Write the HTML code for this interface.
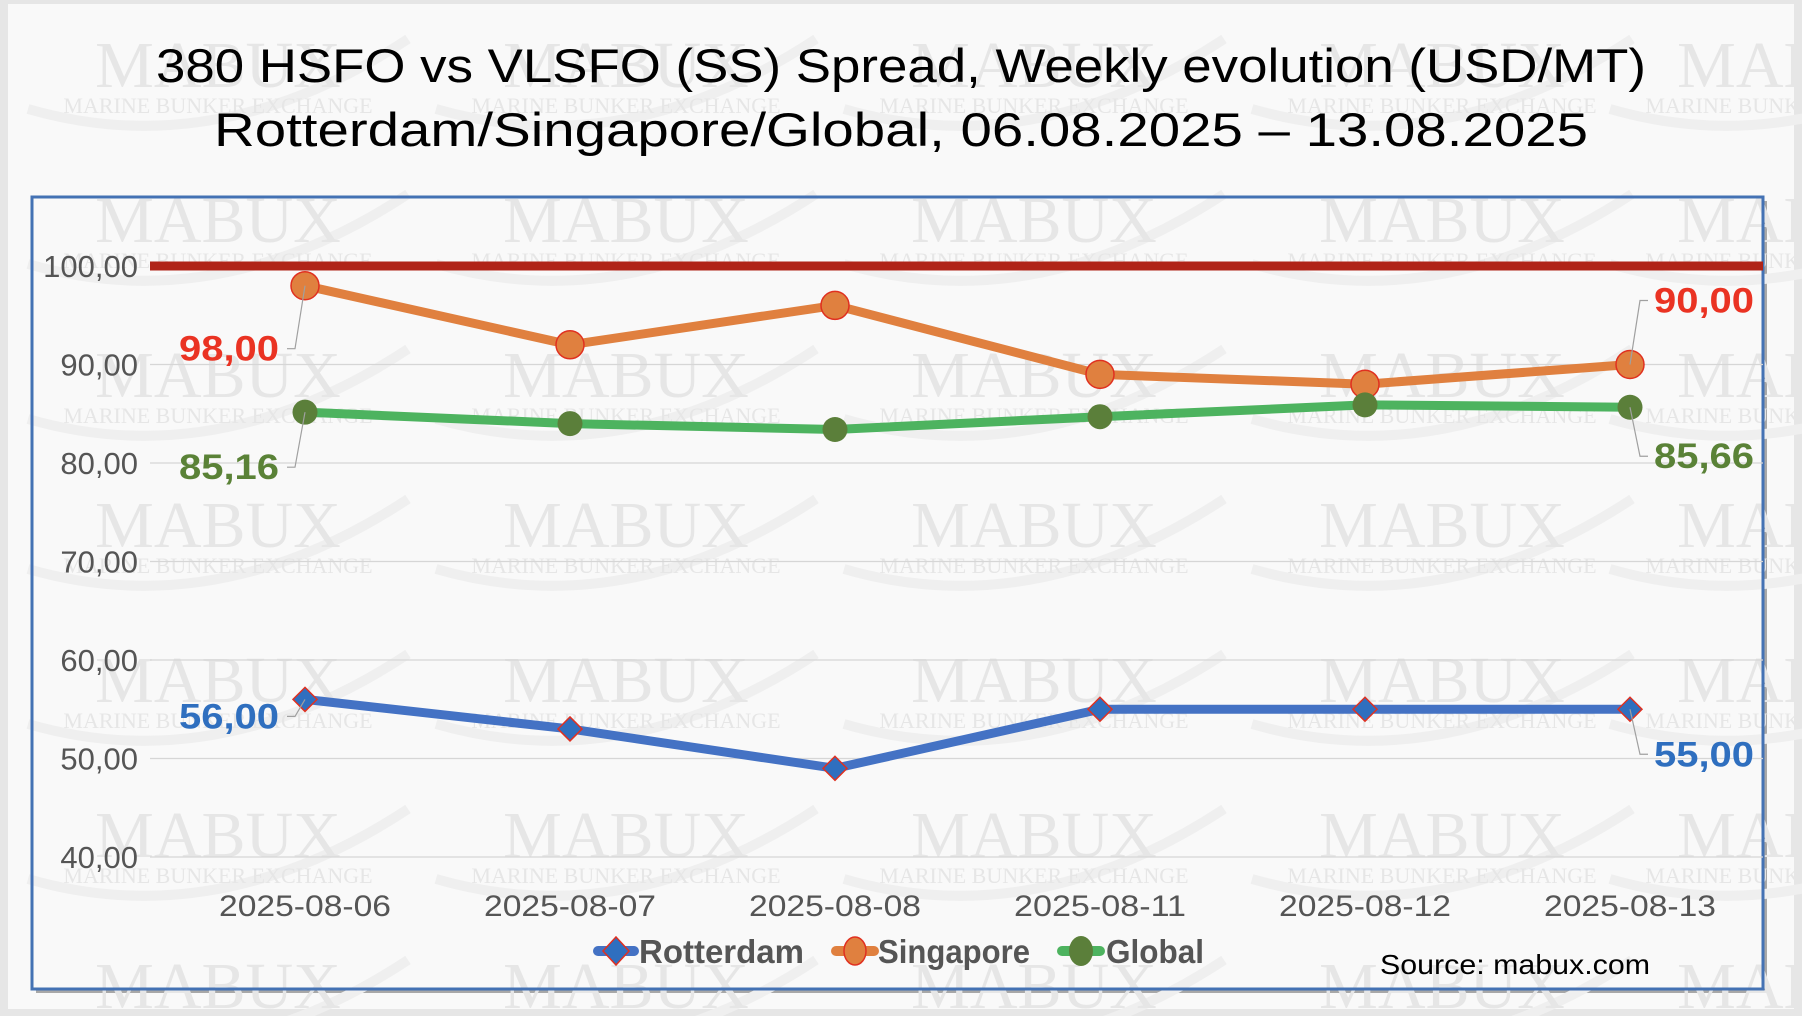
<!DOCTYPE html>
<html><head><meta charset="utf-8"><style>
html,body{margin:0;padding:0;background:#e9e9e9;}
svg{display:block;font-family:"Liberation Sans",sans-serif;}
</style></head><body>
<svg width="1802" height="1016" viewBox="0 0 1802 1016">
<rect x="0" y="0" width="1802" height="1016" fill="#e6e6e6"/>
<rect x="8" y="4" width="1786" height="1005" fill="#f9f9f9"/>
<rect x="36" y="201" width="1731" height="792" fill="#a8a8a8"/>
<rect x="32" y="197" width="1731" height="792" fill="#f9f9f9" stroke="#4472b4" stroke-width="3"/>
<g id="wm" fill="#e6e6e6" font-family="Liberation Serif,serif"></g>
<rect x="32" y="197" width="1731" height="792" fill="none" stroke="#4472b4" stroke-width="3"/>
<text x="901" y="82" text-anchor="middle" font-size="47" fill="#000" textLength="1490" lengthAdjust="spacingAndGlyphs">380 HSFO vs VLSFO (SS) Spread, Weekly evolution (USD/MT)</text>
<text x="901" y="146" text-anchor="middle" font-size="47" fill="#000" textLength="1374" lengthAdjust="spacingAndGlyphs">Rotterdam/Singapore/Global, 06.08.2025 – 13.08.2025</text>
<g id="grid"></g>
<g id="yax"></g>
<g id="xax"></g>
<g id="series"></g>
<g id="labels"></g>
<g>
<g>
<line x1="598" y1="951" x2="634" y2="951" stroke="#4472c4" stroke-width="10" stroke-linecap="round"/>
<path d="M616 937 L629 951 L616 965 L603 951 Z" fill="#2f6fbf" stroke="#e03020" stroke-width="1.5"/>
<text x="639" y="963" font-size="33" font-weight="bold" fill="#555" textLength="165" lengthAdjust="spacingAndGlyphs">Rotterdam</text></g>
<g>
<line x1="836" y1="951" x2="874" y2="951" stroke="#e0803f" stroke-width="10" stroke-linecap="round"/>
<ellipse cx="855" cy="951" rx="11" ry="14" fill="#e0803f" stroke="#e03020" stroke-width="1.5"/>
<text x="878" y="963" font-size="33" font-weight="bold" fill="#555" textLength="152" lengthAdjust="spacingAndGlyphs">Singapore</text></g>
<g>
<line x1="1062" y1="951" x2="1100" y2="951" stroke="#4db35f" stroke-width="10" stroke-linecap="round"/>
<ellipse cx="1081" cy="951" rx="12" ry="15" fill="#5b7f3a"/>
<text x="1106" y="963" font-size="33" font-weight="bold" fill="#555" textLength="98" lengthAdjust="spacingAndGlyphs">Global</text></g>
</g>
<text x="1650" y="974" text-anchor="end" font-size="28" fill="#000" textLength="270" lengthAdjust="spacingAndGlyphs">Source: mabux.com</text>
</svg>
<script>
const categories=["2025-08-06","2025-08-07","2025-08-08","2025-08-11","2025-08-12","2025-08-13"];
const rotterdam=[56,53,49,55,55,55];
const singapore=[98,92,96,89,88,90];
const globalS=[85.16,84,83.4,84.7,85.9,85.66];
const threshold=[100];
const yTicks=[40,50,60,70,80,90,100];
const yTickLabels=["40,00","50,00","60,00","70,00","80,00","90,00","100,00"];
const NS="http://www.w3.org/2000/svg";
function y(v){return 266+(100-v)*9.85;}
function x(i){return 305+i*265;}
function mk(tag,attrs,parent,txt){const e=document.createElementNS(NS,tag);for(const k in attrs)e.setAttribute(k,attrs[k]);if(txt!==undefined)e.textContent=txt;parent.appendChild(e);return e;}
const wm=document.getElementById('wm');
[69,224,379,529,684,839,990].forEach((ry,r)=>{[218,626,1034,1442,1800].forEach(cx=>{
 const a=mk('path',{d:`M${cx-190} ${ry+40} Q${cx} ${ry+95} ${cx+190} ${ry-30}`,fill:'none',stroke:'#efefef','stroke-width':10},wm);
 
 const t=mk('text',{x:cx,y:ry+18,'text-anchor':'middle','font-size':66},wm,'MABUX');
 
 const t2=mk('text',{x:cx,y:ry+44,'text-anchor':'middle','font-size':22},wm,'MARINE BUNKER EXCHANGE');
 });});
const grid=document.getElementById('grid'),yax=document.getElementById('yax'),xax=document.getElementById('xax');
yTicks.forEach((v,i)=>{
 if(v!==100){const g=mk('line',{x1:150,x2:1763,y1:y(v),y2:y(v),stroke:'#d6d6d6','stroke-width':1.2},grid);
 }
 const t=mk('text',{x:138,y:y(v)+11,'text-anchor':'end','font-size':31,fill:'#555'},yax,yTickLabels[i]);
 });
categories.forEach((c,i)=>{const t=mk('text',{x:x(i),y:916,'text-anchor':'middle','font-size':30,fill:'#555',textLength:172,lengthAdjust:'spacingAndGlyphs'},xax,c);
 });
const ser=document.getElementById('series');
const th=mk('line',{x1:150,x2:1763,y1:y(threshold[0]),y2:y(threshold[0]),stroke:'#b02418','stroke-width':9},ser);

function line(data,color,name){const p=mk('polyline',{points:data.map((v,i)=>x(i)+','+y(v)).join(' '),fill:'none',stroke:color,'stroke-width':9,'stroke-linejoin':'round'},ser);
 }
line(singapore,'#e0803f','singapore');line(globalS,'#4db35f','global');line(rotterdam,'#4472c4','rotterdam');
singapore.forEach((v,i)=>{const c=mk('circle',{cx:x(i),cy:y(v),r:14,fill:'#e0803f',stroke:'#e03020','stroke-width':1.5},ser);
 });
globalS.forEach((v,i)=>{const c=mk('circle',{cx:x(i),cy:y(v),r:12.5,fill:'#5b7f3a'},ser);
 });
rotterdam.forEach((v,i)=>{const X=x(i),Y=y(v);const c=mk('path',{d:`M${X} ${Y-12} L${X+12} ${Y} L${X} ${Y+12} L${X-12} ${Y} Z`,fill:'#2f6fbf',stroke:'#e03020','stroke-width':1.5},ser);
 });
const lab=document.getElementById('labels');
function fmt(v){return v.toFixed(2).replace('.',',');}
function dl(data,i,color,side,dy){const X=x(i),Y=y(data[i]);const ly=Y+dy;
 let tx,lx2,anchor;
 if(side<0){lx2=X-18;tx=X-26;anchor='end';}else{lx2=X+18;tx=X+24;anchor='start';}
 const l=mk('polyline',{points:`${X},${Y} ${X-(side<0?10:-10)},${ly} ${lx2},${ly}`,fill:'none',stroke:'#a0a0a0','stroke-width':1.2},lab);
 
 const t=mk('text',{x:tx,y:ly+12,'text-anchor':anchor,'font-size':35,'font-weight':'bold',fill:color,textLength:100,lengthAdjust:'spacingAndGlyphs'},lab,fmt(data[i]));
 }
dl(singapore,0,'#ea3323',-1,63);dl(globalS,0,'#5a8237',-1,55);dl(rotterdam,0,'#2f6fbf',-1,17);
dl(singapore,5,'#ea3323',1,-64);dl(globalS,5,'#5a8237',1,49);dl(rotterdam,5,'#2f6fbf',1,45);
</script>
</body></html>
